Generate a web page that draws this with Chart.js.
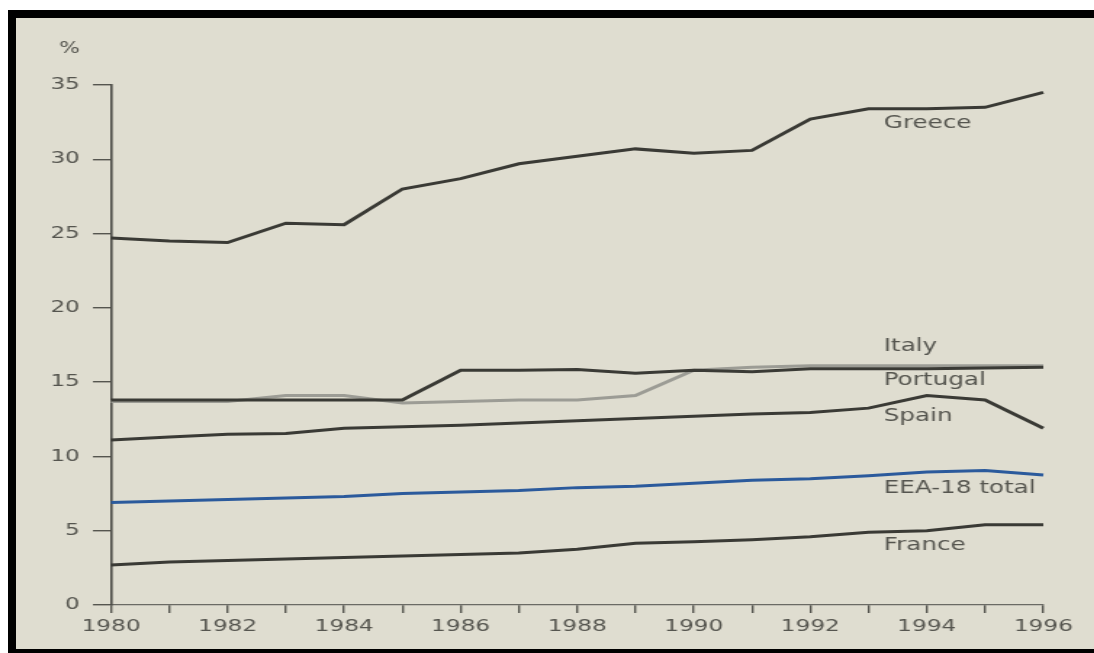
<!DOCTYPE html>
<html>
<head>
  <meta charset="UTF-8">
  <title>Chart</title>
  <script src="https://cdn.jsdelivr.net/npm/chart.js@4"></script>
  <style>
    html, body { margin: 0; padding: 0; background: #fff; overflow: hidden; }
    .frame {
      position: absolute;
      left: 8px;
      top: 10px;
      width: 1078px;
      height: 631px;
      background: #dfddd0;
      border-left: 8px solid #000;
      border-top: 8px solid #000;
      border-bottom: 8px solid #000;
      overflow: hidden;
    }
    /* the original picture is stretched sideways, so the canvas is too */
    #chart {
      transform: scaleX(1.451);
      transform-origin: 0 0;
    }
  </style>
</head>
<body>
  <div class="frame">
    <canvas id="chart" width="743" height="631"></canvas>
  </div>

  <script>
    // data
    const years = ['1980', '1981', '1982', '1983', '1984', '1985', '1986', '1987', '1988',
                   '1989', '1990', '1991', '1992', '1993', '1994', '1995', '1996'];
    const greece   = [24.7, 24.5, 24.4, 25.7, 25.6, 28.0, 28.7, 29.7, 30.2, 30.7, 30.4, 30.6, 32.7, 33.4, 33.4, 33.5, 34.5];
    const italy    = [13.7, 13.7, 13.7, 14.1, 14.1, 13.6, 13.7, 13.8, 13.8, 14.1, 15.8, 16.0, 16.1, 16.1, 16.1, 16.1, 16.1];
    const portugal = [13.8, 13.8, 13.8, 13.8, 13.8, 13.8, 15.8, 15.8, 15.85, 15.6, 15.8, 15.7, 15.9, 15.9, 15.9, 15.95, 16.0];
    const spain    = [11.1, 11.3, 11.5, 11.55, 11.9, 12.0, 12.1, 12.25, 12.4, 12.55, 12.7, 12.85, 12.95, 13.25, 14.1, 13.8, 11.9];
    const eea      = [6.9, 7.0, 7.1, 7.2, 7.3, 7.5, 7.6, 7.7, 7.9, 8.0, 8.2, 8.4, 8.5, 8.7, 8.95, 9.05, 8.75];
    const france   = [2.7, 2.9, 3.0, 3.1, 3.2, 3.3, 3.4, 3.5, 3.75, 4.15, 4.25, 4.4, 4.6, 4.9, 5.0, 5.4, 5.4];
    const yTicks   = [0, 5, 10, 15, 20, 25, 30, 35];

    const textColor = '#55554f';
    const fontFamily = "'DejaVu Sans', sans-serif";

    // series names written next to the lines (x as year index, y as %)
    const lineLabels = [
      { text: 'Greece',       x: 13.26, y: 32.4 },
      { text: 'Italy',        x: 13.26, y: 17.4 },
      { text: 'Portugal',     x: 13.26, y: 15.1 },
      { text: 'Spain',        x: 13.26, y: 12.7 },
      { text: 'EEA-18 total', x: 13.26, y: 7.85 },
      { text: 'France',       x: 13.26, y: 4.0 }
    ];

    const labelPlugin = {
      id: 'lineLabels',
      afterDraw(chart) {
        const ctx = chart.ctx;
        const xs = chart.scales.x;
        const ys = chart.scales.y;
        ctx.save();
        ctx.fillStyle = textColor;
        ctx.font = '17px ' + fontFamily;
        ctx.textBaseline = 'middle';
        ctx.textAlign = 'left';
        lineLabels.forEach(l => {
          ctx.fillText(l.text, xs.getPixelForValue(l.x), ys.getPixelForValue(l.y));
        });
        // unit above the y axis
        ctx.font = '15px ' + fontFamily;
        ctx.textAlign = 'right';
        ctx.fillText('%', ys.right - 12.5 - 9, chart.chartArea.top - 36);
        ctx.restore();
      }
    };

    function line(label, data, color) {
      return {
        label: label,
        data: data,
        borderColor: color,
        borderWidth: 3,
        pointRadius: 0,
        tension: 0,
        fill: false
      };
    }

    new Chart(document.getElementById('chart'), {
      type: 'line',
      data: {
        labels: years,
        datasets: [
          line('Greece', greece, '#3a3a35'),
          line('Portugal', portugal, '#3a3a35'),
          line('Italy', italy, '#9c9c95'),
          line('Spain', spain, '#3a3a35'),
          line('EEA-18 total', eea, '#2b5a9c'),
          line('France', france, '#3a3a35')
        ]
      },
      options: {
        responsive: false,
        animation: false,
        layout: { padding: { top: 67, right: 35, left: 0, bottom: 0 } },
        plugins: {
          legend: { display: false },
          tooltip: { enabled: false }
        },
        scales: {
          x: {
            afterFit(scale) { scale.height = 44; },
            grid: { drawOnChartArea: false, drawTicks: true, tickLength: 8, color: '#55554f', lineWidth: 1.4 },
            border: { display: true, color: '#6a6a64', width: 1.2, dash: [1, 1] },
            ticks: {
              autoSkip: false,
              maxRotation: 0,
              padding: 4,
              color: textColor,
              font: { family: fontFamily, size: 16 },
              callback(v, i) { return i % 2 === 0 ? years[i] : ''; }
            }
          },
          y: {
            min: 0,
            max: 35,
            afterFit(scale) { scale.width = 65.5; },
            afterBuildTicks(scale) { scale.ticks = yTicks.map(v => ({ value: v })); },
            grid: { drawOnChartArea: false, drawTicks: true, tickLength: 12.5, color: '#55554f', lineWidth: 1.4 },
            border: { display: true, color: '#4a4a45', width: 1.6 },
            ticks: {
              padding: 9,
              color: textColor,
              font: { family: fontFamily, size: 16 }
            }
          }
        }
      },
      plugins: [labelPlugin]
    });
  </script>
</body>
</html>
